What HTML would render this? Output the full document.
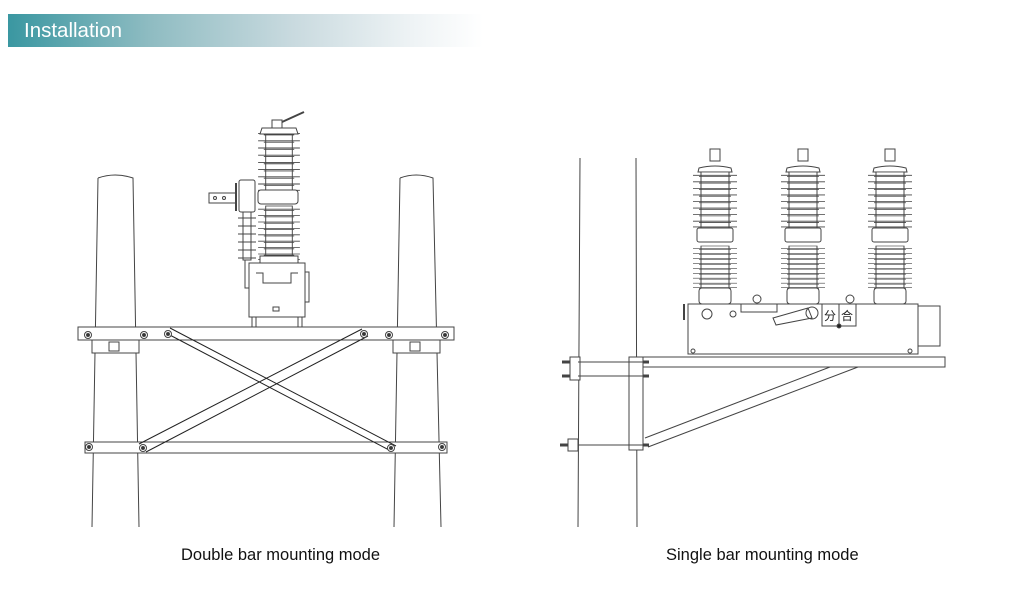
<!DOCTYPE html>
<html><head><meta charset="utf-8"><style>
html,body{margin:0;padding:0;background:#fff;}
body{width:1028px;height:614px;position:relative;overflow:hidden;font-family:"Liberation Sans",sans-serif;}
.hdr{position:absolute;left:8px;top:14px;width:475px;height:33px;background:linear-gradient(to right,#3a97a1 0%,#8fbcc2 30%,#c9dadf 60%,#eef3f5 85%,#fff 100%);}
.hdr span{position:absolute;left:16px;top:5px;color:#fff;font-size:20.5px;}
.cap{position:absolute;top:546px;font-size:16.5px;color:#111;}
svg{position:absolute;left:0;top:0;}
</style></head><body>
<div class="hdr"><span>Installation</span></div>
<svg width="1028" height="614" viewBox="0 0 1028 614" fill="none" stroke="#444" stroke-width="1">
<defs>
<g id="sheds">
<line x1="-22" y1="0" x2="22" y2="0"/><line x1="-16" y1="1.5" x2="16" y2="1.5"/>
</g>
<g id="bolt"><circle r="3.5" fill="#fff"/><circle r="1.5" fill="#333"/></g>
<g id="ins">
<rect x="-14" y="0" width="28" height="70" fill="#fff"/>
<use href="#sheds" y="4"/><use href="#sheds" y="12"/><use href="#sheds" y="20"/><use href="#sheds" y="28"/><use href="#sheds" y="36"/><use href="#sheds" y="44"/><use href="#sheds" y="52"/><use href="#sheds" y="60"/><use href="#sheds" y="67"/>
</g>
<g id="pole3">
<rect x="-5" y="149" width="10" height="12" fill="#fff"/>
<path d="M-16 168 Q0 164 16 168 L17 172 L-17 172 Z" fill="#fff"/>
<use href="#ins" transform="translate(0,172) scale(1,0.82)"/>
<rect x="-18" y="228" width="36" height="14" rx="2" fill="#fff"/>
<use href="#ins" transform="translate(0,246) scale(1,0.62)"/>
<rect x="-16" y="288" width="32" height="16" rx="3" fill="#fff"/>
</g>
</defs>
<!-- LEFT: poles -->
<path d="M98 178 Q115 172 133 178 L139 527 M98 178 L92 527"/>
<path d="M400 178 Q416 172 433 178 L441 527 M400 178 L394 527"/>
<rect x="78" y="327" width="376" height="13" fill="#fff"/>
<rect x="92" y="340" width="47" height="13" fill="#fff"/><rect x="393" y="340" width="47" height="13" fill="#fff"/>
<rect x="109" y="342" width="10" height="9"/><rect x="410" y="342" width="10" height="9"/>
<rect x="85" y="442" width="362" height="11" fill="#fff"/>
<use href="#bolt" x="88" y="335"/><use href="#bolt" x="144" y="335"/><use href="#bolt" x="389" y="335"/><use href="#bolt" x="445" y="335"/>
<use href="#bolt" x="89" y="447"/><use href="#bolt" x="442" y="447"/>
<!-- braces -->
<path d="M166 333 L391 451 M170 328 L396 446" stroke="#222"/>
<path d="M362 329 L139 444 M368 336 L146 452" stroke="#222"/>
<use href="#bolt" x="168" y="334"/><use href="#bolt" x="364" y="334"/><use href="#bolt" x="143" y="448"/><use href="#bolt" x="391" y="448"/>
<!-- breaker left -->
<use href="#ins" transform="translate(279,130) scale(0.95,0.9)"/>
<rect x="258" y="190" width="40" height="14" rx="3" fill="#fff"/>
<use href="#ins" transform="translate(279,206) scale(0.95,0.8)"/>
<path d="M262 128 L296 128 L298 134 L260 134 Z" fill="#fff"/>
<rect x="272" y="120" width="10" height="8"/><line x1="282" y1="122" x2="304" y2="112" stroke-width="2"/>
<rect x="260" y="256" width="38" height="8" fill="#fff"/>
<rect x="249" y="263" width="56" height="54" fill="#fff"/>
<path d="M256 273 L263 273 L263 283 L291 283 L291 273 L298 273"/>
<rect x="305" y="272" width="4" height="30"/>
<rect x="273" y="307" width="6" height="4"/>
<rect x="252" y="317" width="4" height="10"/><rect x="298" y="317" width="4" height="10"/>
<rect x="239" y="180" width="16" height="32" rx="2" fill="#fff"/>
<line x1="236" y1="183" x2="236" y2="211" stroke-width="2"/>
<rect x="209" y="193" width="27" height="10"/>
<circle cx="215" cy="198" r="1.5"/><circle cx="224" cy="198" r="1.5"/>
<rect x="243" y="212" width="8" height="48"/>
<line x1="238" y1="218" x2="256" y2="218"/><line x1="238" y1="226" x2="256" y2="226"/><line x1="238" y1="234" x2="256" y2="234"/><line x1="238" y1="242" x2="256" y2="242"/><line x1="238" y1="250" x2="256" y2="250"/><line x1="238" y1="258" x2="256" y2="258"/>
<path d="M245 260 L245 288 L249 288"/>
<!-- RIGHT: pole -->
<path d="M580 158 L578 527 M636 158 L637 527"/>
<rect x="636" y="357" width="309" height="10" fill="#fff"/>
<path d="M645 438 L830 367 M648 447 L858 367"/>
<rect x="629" y="357" width="14" height="93" fill="#fff"/>
<rect x="570" y="357" width="10" height="23" fill="#fff"/><rect x="568" y="439" width="10" height="12" fill="#fff"/>
<line x1="578" y1="362" x2="643" y2="362"/><line x1="578" y1="376" x2="643" y2="376"/><line x1="578" y1="445" x2="643" y2="445"/>
<path d="M562 362 h8 M562 376 h8 M560 445 h8 M643 362 h6 M643 376 h6 M643 445 h6" stroke-width="3"/>
<!-- breaker right -->
<rect x="688" y="304" width="230" height="50" fill="#fff"/>
<rect x="918" y="306" width="22" height="40" fill="#fff"/>
<line x1="684" y1="304" x2="684" y2="320" stroke-width="2"/>
<use href="#pole3" x="715"/><use href="#pole3" x="803"/><use href="#pole3" x="890"/>
<circle cx="757" cy="299" r="4"/><circle cx="850" cy="299" r="4"/>
<rect x="741" y="304" width="36" height="8"/>
<circle cx="707" cy="314" r="5"/><circle cx="733" cy="314" r="3"/>
<path d="M773 318 L808 308 L812 318 L776 325 Z"/><circle cx="812" cy="313" r="6"/>
<rect x="822" y="304" width="17" height="22"/><rect x="839" y="304" width="17" height="22"/>
<text x="824" y="320" font-size="12" fill="#222" stroke="none" font-family="Noto Sans CJK SC,sans-serif">分</text>
<text x="841" y="320" font-size="12" fill="#222" stroke="none" font-family="Noto Sans CJK SC,sans-serif">合</text>
<circle cx="839" cy="326" r="2" fill="#222"/>
<circle cx="693" cy="351" r="2"/><circle cx="910" cy="351" r="2"/>
</svg>
<div class="cap" style="left:181px">Double bar mounting mode</div>
<div class="cap" style="left:666px">Single bar mounting mode</div>
</body></html>
